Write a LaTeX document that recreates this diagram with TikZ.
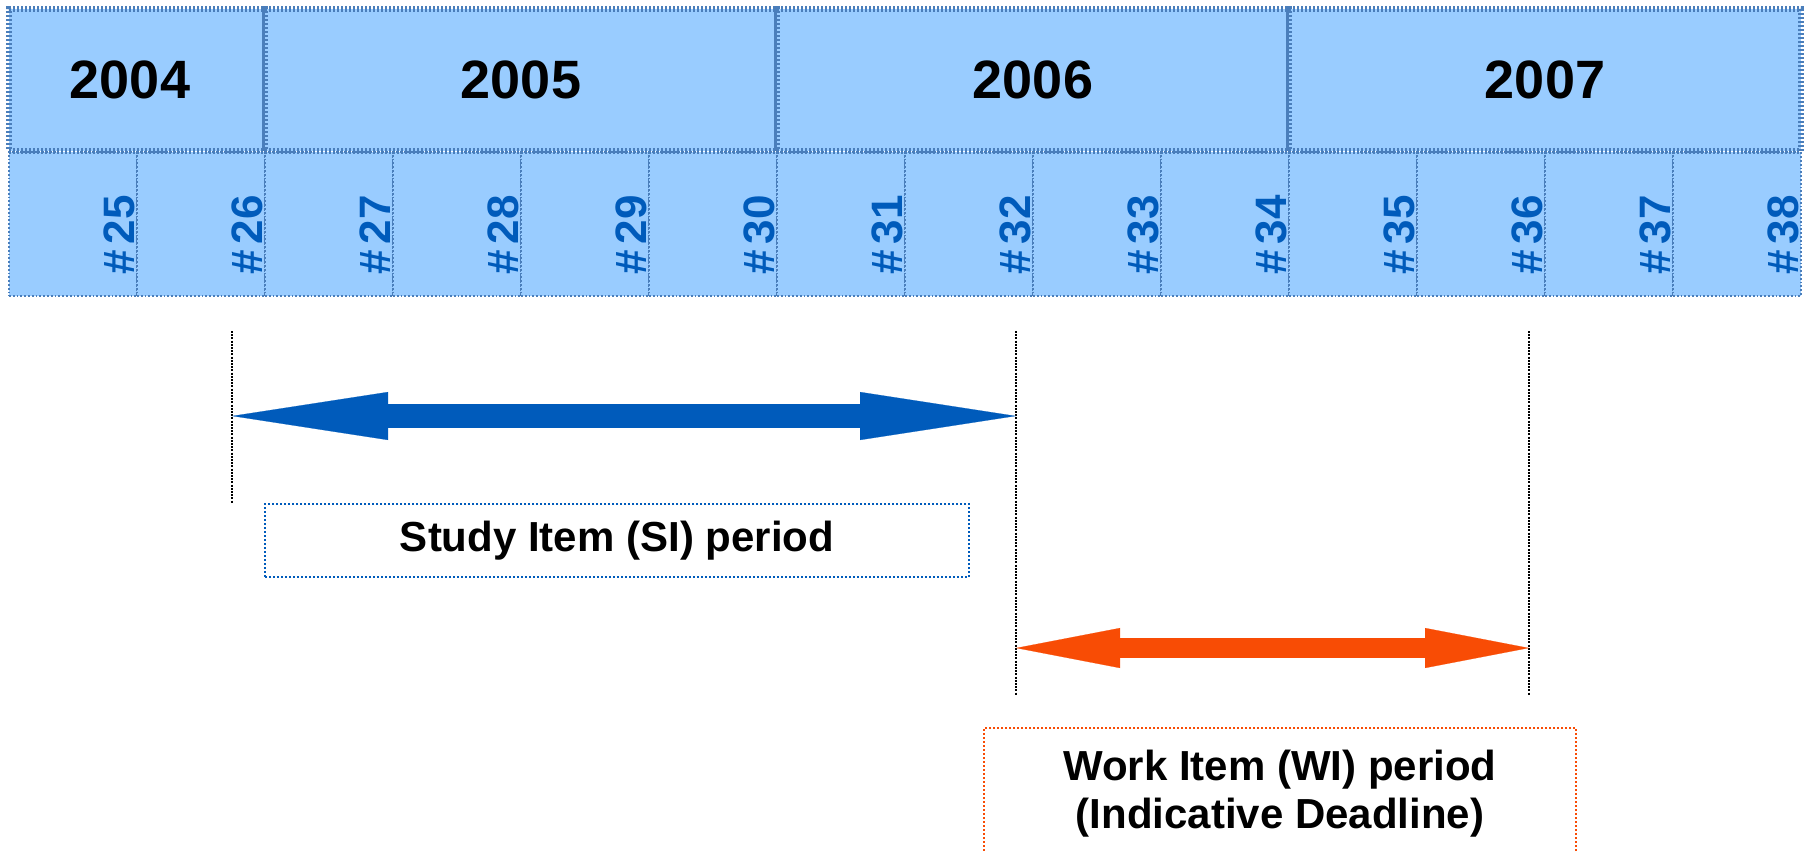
\documentclass[tikz,border=0pt]{standalone}
\usepackage{fontspec}
\setmainfont{Liberation Sans}
\usepackage{xcolor}
\usepackage{tikz}
\usetikzlibrary{positioning}
\usetikzlibrary{arrows.meta}

\definecolor{cellfill}{HTML}{99CCFF}
\definecolor{cellline}{HTML}{4A7EBB}
\definecolor{siblue}{HTML}{005BBB}
\definecolor{wiorange}{HTML}{F84C05}

\begin{document}
\begin{tikzpicture}[x=0.5pt,y=-0.5pt]
	\tikzset{year/.style={draw=cellline,fill=cellfill,line width=3pt,dash pattern=on 1pt off 1pt,
			inner sep=0pt,minimum height=71pt,font=\bfseries\fontsize{27}{30}\selectfont},
		week/.style={draw=cellline,fill=cellfill,line width=0.9pt,densely dotted,
			inner sep=0pt,minimum width=64pt,minimum height=72pt},
		wklabel/.style={text=siblue,font=\bfseries\fontsize{22}{24}\selectfont,
			inner sep=0pt,anchor=base west,rotate=90},
		mark line/.style={black,line width=1.1pt,dash pattern=on 1pt off 0.6pt},
		period box/.style={line width=1pt,densely dotted,text=black,align=center,
			inner sep=0pt,font=\bfseries\fontsize{21}{24}\selectfont}}

\clip (0,0) rectangle (1808,852);

\foreach \n [count=\i from 0] in {25,...,38}{
	\node[week] (w\n) at (73+128*\i,224) {};
	\node[wklabel] (t\n) at ([xshift=-1.5pt,yshift=11pt]w\n.south east) {\#\kern3pt\n};
}

\node[year,minimum width=128pt] (y2004) at (137,80) {2004\kern7pt};
\node[year,minimum width=256pt] (y2005) at (521,80) {2005};
\node[year,minimum width=256pt] (y2006) at (1033,80) {2006};
\node[year,minimum width=256pt] (y2007) at (1545,80) {2007};

\coordinate (m1) at (232,331);
\coordinate (m1b) at (232,503);
\coordinate (m2) at (1016,331);
\coordinate (m2b) at (1016,695);
\coordinate (m3) at (1529,331);
\coordinate (m3b) at (1529,695);

\draw[mark line] (m1) -- (m1b);
\draw[mark line] (m2) -- (m2b);
\draw[mark line] (m3) -- (m3b);

\coordinate (sia) at (232,416);
\coordinate (sib) at (1016,416);
\coordinate (wia) at (1016,648);
\coordinate (wib) at (1529,648);

\draw[siblue,line width=12pt,{Triangle[length=78pt,width=24pt,line width=0.1pt]}-{Triangle[length=78pt,width=24pt,line width=0.1pt]}] (sia) -- (sib);
\draw[wiorange,line width=10pt,{Triangle[length=52pt,width=20pt,line width=0.1pt]}-{Triangle[length=52pt,width=20pt,line width=0.1pt]}] (wia) -- (wib);

\node[period box,draw=siblue,minimum width=352pt,minimum height=36.5pt] (si) at (617,540.5) {Study Item (SI) period};
\node[period box,draw=wiorange,minimum width=296pt,minimum height=65.5pt] (wi) at (1280,793.5) {Work Item (WI) period\\(Indicative Deadline)};
\end{tikzpicture}
\end{document}
